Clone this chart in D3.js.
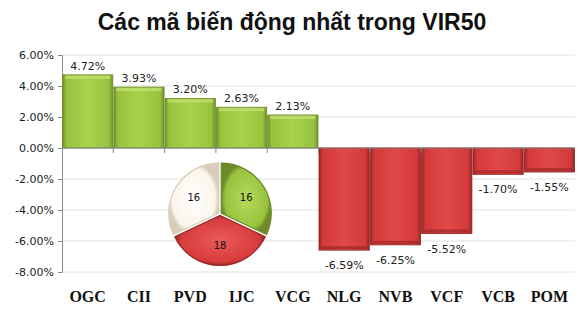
<!DOCTYPE html>
<html>
<head>
<meta charset="utf-8">
<script src="https://cdn.jsdelivr.net/npm/d3@7"></script>
<style>
  body { margin: 0; background: #fff; }
</style>
</head>
<body>
<script>
// data
const codes = ["OGC", "CII", "PVD", "IJC", "VCG", "NLG", "NVB", "VCF", "VCB", "POM"];
const changes = [4.72, 3.93, 3.20, 2.63, 2.13, -6.59, -6.25, -5.52, -1.70, -1.55];
const yTicks = [6, 4, 2, 0, -2, -4, -6, -8];
const pieLabels = ["Tăng", "Giảm", "Đứng giá"];
const pieCounts = [16, 18, 16];

const width = 579, height = 309;
const margin = { top: 55, right: 4, bottom: 37, left: 62 };

const svg = d3.select("body").append("svg")
  .attr("width", width)
  .attr("height", height)
  .style("font-family", "Tahoma, 'DejaVu Sans', sans-serif");

const defs = svg.append("defs");
function bevel(id, light, mid, dark) {
  const g = defs.append("linearGradient").attr("id", id)
    .attr("x1", 0).attr("x2", 1).attr("y1", 0).attr("y2", 0);
  g.append("stop").attr("offset", "0%").attr("stop-color", dark);
  g.append("stop").attr("offset", "8%").attr("stop-color", mid);
  g.append("stop").attr("offset", "50%").attr("stop-color", light);
  g.append("stop").attr("offset", "92%").attr("stop-color", mid);
  g.append("stop").attr("offset", "100%").attr("stop-color", dark);
}
bevel("gGreen", "#a9d24e", "#98c23e", "#6f9128");
bevel("gRed", "#e04848", "#d43a3a", "#9c2424");

const x = d3.scaleBand()
  .domain(codes)
  .range([margin.left, width - margin.right])
  .padding(0);

const y = d3.scaleLinear()
  .domain([-8, 6])
  .range([height - margin.bottom, margin.top]);

// title
svg.append("text")
  .attr("x", 292).attr("y", 30)
  .attr("text-anchor", "middle")
  .style("font-family", "Arial, 'Liberation Sans', sans-serif")
  .style("font-weight", "bold")
  .style("font-size", "23px")
  .attr("fill", "#111")
  .text("Các mã biến động nhất trong VIR50");

// gridlines
svg.append("g")
  .selectAll("line")
  .data(yTicks)
  .join("line")
  .attr("x1", margin.left).attr("x2", width - margin.right)
  .attr("y1", d => y(d)).attr("y2", d => y(d))
  .attr("stroke", "#e4e0d8")
  .attr("stroke-width", 1);

// y axis
const yAxis = svg.append("g")
  .attr("transform", `translate(${margin.left},0)`)
  .call(d3.axisLeft(y).tickValues(yTicks).tickSize(4).tickFormat(d => d.toFixed(2) + "%"));
yAxis.select(".domain").attr("stroke", "#888");
yAxis.selectAll(".tick line").attr("stroke", "#888");
yAxis.selectAll(".tick text")
  .attr("x", -8)
  .style("font-size", "11px")
  .style("font-family", "Tahoma, 'DejaVu Sans', sans-serif")
  .attr("fill", "#222");

// bars
svg.append("g")
  .selectAll("rect")
  .data(codes)
  .join("rect")
  .attr("x", d => x(d) + 0.5)
  .attr("width", x.bandwidth() - 1)
  .attr("y", (d, i) => y(Math.max(0, changes[i])))
  .attr("height", (d, i) => Math.abs(y(changes[i]) - y(0)))
  .attr("fill", (d, i) => changes[i] >= 0 ? "url(#gGreen)" : "url(#gRed)")
  .attr("stroke", (d, i) => changes[i] >= 0 ? "#6d8a2a" : "#8e2222")
  .attr("stroke-width", 0.8);

// top highlight on bars
svg.append("g")
  .selectAll("rect")
  .data(codes)
  .join("rect")
  .attr("x", d => x(d) + 3)
  .attr("width", x.bandwidth() - 6)
  .attr("y", (d, i) => changes[i] >= 0 ? y(changes[i]) + 1 : y(changes[i]) - 4)
  .attr("height", 3)
  .attr("fill", (d, i) => changes[i] >= 0 ? "#c2e070" : "#a82a2a")
  .attr("opacity", 0.8);

// x axis baseline and ticks
svg.append("line")
  .attr("x1", margin.left).attr("x2", width - margin.right)
  .attr("y1", y(0)).attr("y2", y(0))
  .attr("stroke", "#888");
svg.append("g")
  .selectAll("line")
  .data(codes.slice(1))
  .join("line")
  .attr("x1", d => x(d)).attr("x2", d => x(d))
  .attr("y1", y(0)).attr("y2", y(0) + 5)
  .attr("stroke", "#888");

// value labels
svg.append("g")
  .selectAll("text")
  .data(codes)
  .join("text")
  .attr("x", d => x(d) + x.bandwidth() / 2)
  .attr("y", (d, i) => changes[i] >= 0 ? y(changes[i]) - 5 : y(changes[i]) + 19)
  .attr("text-anchor", "middle")
  .style("font-size", "11px")
  .attr("fill", "#222")
  .text((d, i) => changes[i].toFixed(2) + "%");

// category labels
svg.append("g")
  .selectAll("text")
  .data(codes)
  .join("text")
  .attr("x", d => x(d) + x.bandwidth() / 2)
  .attr("y", 302)
  .attr("text-anchor", "middle")
  .style("font-family", "'Liberation Serif', 'Times New Roman', serif")
  .style("font-weight", "bold")
  .style("font-size", "16px")
  .attr("fill", "#111")
  .text(d => d);

// pie
const pieColors = ["#98c23e", "#d83c3c", "#fbf5ea"];
const pieStroke = ["#6d8a2a", "#9a2828", "#d8cdbb"];
const pieGrads = ["pGreen", "pRed", "pCream"];
const pieLight = ["#b4da5a", "#ea5a5a", "#ffffff"];
pieGrads.forEach((id, i) => {
  const g = defs.append("radialGradient").attr("id", id)
    .attr("cx", "50%").attr("cy", "50%").attr("r", "50%");
  g.append("stop").attr("offset", "0%").attr("stop-color", pieLight[i]);
  g.append("stop").attr("offset", "85%").attr("stop-color", pieColors[i]);
  g.append("stop").attr("offset", "100%").attr("stop-color", pieStroke[i]);
});

const cx = 220, cy = 214, r = 50;
const pie = d3.pie().sort(null).value(d => d)(pieCounts);
const arc = d3.arc().innerRadius(0).outerRadius(r);
const pg = svg.append("g").attr("transform", `translate(${cx},${cy})`);
pg.selectAll("path")
  .data(pie)
  .join("path")
  .attr("transform", d => {
    const a = (d.startAngle + d.endAngle) / 2;
    return `translate(${Math.sin(a) * 1.5},${-Math.cos(a) * 1.5})`;
  })
  .attr("d", arc)
  .attr("fill", (d, i) => `url(#${pieGrads[i]})`)
  .attr("stroke", (d, i) => pieStroke[i])
  .attr("stroke-width", 1.2);
pg.selectAll("text")
  .data(pie)
  .join("text")
  .attr("transform", d => {
    const a = (d.startAngle + d.endAngle) / 2;
    return `translate(${Math.sin(a) * r * 0.62},${-Math.cos(a) * r * 0.62 + 4})`;
  })
  .attr("text-anchor", "middle")
  .style("font-size", "10px")
  .attr("fill", "#111")
  .text(d => d.data);
</script>
</body>
</html>
